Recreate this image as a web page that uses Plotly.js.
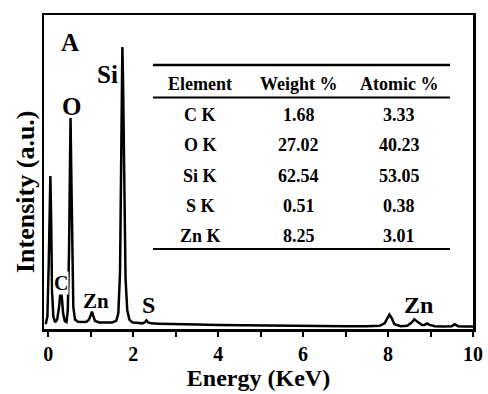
<!DOCTYPE html>
<html>
<head>
<meta charset="utf-8">
<script src="https://cdn.plot.ly/plotly-3.0.1.min.js"></script>
<style>html,body{margin:0;padding:0;background:#fff;}#chart{width:488px;height:394px;}</style>
</head>
<body>
<div id="chart"></div>
<script>
// Spectrum (Energy in keV, intensity in arbitrary units)
const energy = [-0.06,-0.02,0.01,0.035,0.05,0.065,0.09,0.12,0.16,0.21,0.255,0.285,0.3,0.32,0.35,0.39,0.43,0.46,0.49,0.51,0.525,0.54,0.56,0.59,0.63,0.7,0.8,0.9,0.96,1.0,1.03,1.06,1.1,1.2,1.35,1.5,1.6,1.65,1.69,1.72,1.745,1.76,1.79,1.82,1.86,1.91,1.98,2.1,2.22,2.28,2.31,2.35,2.42,2.6,3.0,3.5,4.0,4.5,5.0,5.5,6.0,6.5,7.0,7.5,7.8,7.92,7.98,8.03,8.08,8.15,8.3,8.45,8.55,8.62,8.7,8.8,8.86,8.92,8.98,9.1,9.3,9.5,9.57,9.65,9.8,10.0];
const intensity = [1.5,4,20,42,48.7,38,12,4,2.2,3,7,11.5,12.5,10,5,2.5,2.2,6,25,50,67.2,52,25,7,3,2.3,2.2,2.3,3,4.8,5.5,4.2,2.6,2.1,2.0,2.1,2.6,5,18,55,89.8,80,40,16,6,3,2.1,1.9,1.8,2.2,2.7,2.1,1.8,1.7,1.5,1.4,1.3,1.2,1.1,1.1,1.0,1.0,0.9,0.9,1.0,1.8,3.5,4.6,3.6,1.5,0.9,1.0,2.0,3.1,2.2,1.3,1.3,1.8,1.3,0.9,0.8,0.9,1.5,0.9,0.8,0.8];

// Axis ticks
const tickValues = [0,2,4,6,8,10];
const tickLabels = ["0","2","4","6","8","10"];

// Peak labels
const peakLabels = ["C","O","Zn","Si","S","Zn"];
const peakLabelX = [0.31,0.55,1.13,1.4,2.35,8.72];
const peakLabelY = [14.8,71,9,81,7.5,7.5];
const peakLabelSize = [20,25,21,25,24,24];

// Table
const tableHeader = ["Element","Weight %","Atomic %"];
const elements = ["C K","O K","Si K","S K","Zn K"];
const weightPct = ["1.68","27.02","62.54","0.51","8.25"];
const atomicPct = ["3.33","40.23","53.05","0.38","3.01"];

const FONT = "'Liberation Serif','Times New Roman',Times,serif";

// pixel -> paper helpers (plot area: left 44, right 473, top 15, bottom 329)
const L = 44, R = 473, T = 15, B = 329;
const px = v => (v - L) / (R - L);
const py = v => (B - v) / (B - T);

const annotations = [];
annotations.push({text:"<b>A</b>", xref:"paper", yref:"paper", x:px(70), y:py(43), showarrow:false,
  font:{family:FONT,size:25,color:"#000"}, xanchor:"center", yanchor:"middle"});
peakLabels.forEach((t,i)=>{
  annotations.push({text:"<b>"+t+"</b>", xref:"x", yref:"y", x:peakLabelX[i], y:peakLabelY[i], showarrow:false,
    font:{family:FONT,size:peakLabelSize[i],color:"#000"}, xanchor:"center", yanchor:"middle",
    bgcolor: t==="C" ? "#fff" : "rgba(0,0,0,0)", borderpad: t==="C" ? 0 : 1});
});
// y title
annotations.push({text:"<b>Intensity (a.u.)</b>", xref:"paper", yref:"paper", x:px(25), y:py(192), textangle:-90,
  showarrow:false, font:{family:FONT,size:26,color:"#000"}, xanchor:"center", yanchor:"middle"});

const colX = [200, 298.5, 399];
const headerY = 83.5;
const rowY0 = 115, rowStep = 30.3;
tableHeader.forEach((t,j)=>{
  annotations.push({text:"<b>"+t+"</b>", xref:"paper", yref:"paper", x:px(colX[j]), y:py(headerY), showarrow:false,
    font:{family:FONT,size:18,color:"#000"}, xanchor:"center", yanchor:"middle"});
});
const cols = [elements, weightPct, atomicPct];
elements.forEach((_,i)=>{
  cols.forEach((c,j)=>{
    annotations.push({text:"<b>"+c[i]+"</b>", xref:"paper", yref:"paper", x:px(colX[j]), y:py(rowY0 + i*rowStep), showarrow:false,
      font:{family:FONT,size:18,color:"#000"}, xanchor:"center", yanchor:"middle"});
  });
});

const shapes = [
  {type:"line", xref:"paper", yref:"paper", x0:px(153), x1:px(450), y0:py(65), y1:py(65), line:{color:"#000",width:2.5}},
  {type:"line", xref:"paper", yref:"paper", x0:px(153), x1:px(450), y0:py(97.5), y1:py(97.5), line:{color:"#000",width:1.8}},
  {type:"line", xref:"paper", yref:"paper", x0:px(153), x1:px(450), y0:py(249), y1:py(249), line:{color:"#000",width:2}}
];

const trace = {x:energy, y:intensity, type:"scatter", mode:"lines",
  line:{color:"#000", width:2.5}, hoverinfo:"skip", showlegend:false};

const layout = {
  width:488, height:394,
  margin:{l:L, r:488-R, t:T, b:394-B, pad:0},
  paper_bgcolor:"#fff", plot_bgcolor:"#fff",
  font:{family:FONT, color:"#000"},
  xaxis:{range:[-0.1,10], showline:true, mirror:true, linecolor:"#000", linewidth:2.5,
    showgrid:false, zeroline:false, ticks:"outside", ticklen:5, tickwidth:2, tickcolor:"#000",
    tickmode:"array", tickvals:tickValues, ticktext:tickLabels.map(t=>"<b>"+t+"</b>"),
    tickfont:{family:FONT,size:20,color:"#000"},
    minor:{ticks:"outside", dtick:1, tick0:0, ticklen:5, tickwidth:2, tickcolor:"#000", showgrid:false},
    title:{text:"<b>Energy (KeV)</b>", font:{family:FONT,size:24,color:"#000"}, standoff:6}},
  yaxis:{range:[0,100], showline:true, mirror:true, linecolor:"#000", linewidth:2.5,
    showgrid:false, zeroline:false, ticks:"", showticklabels:false},
  annotations:annotations,
  shapes:shapes
};

Plotly.newPlot("chart", [trace], layout, {displayModeBar:false, staticPlot:true});
</script>
</body>
</html>
